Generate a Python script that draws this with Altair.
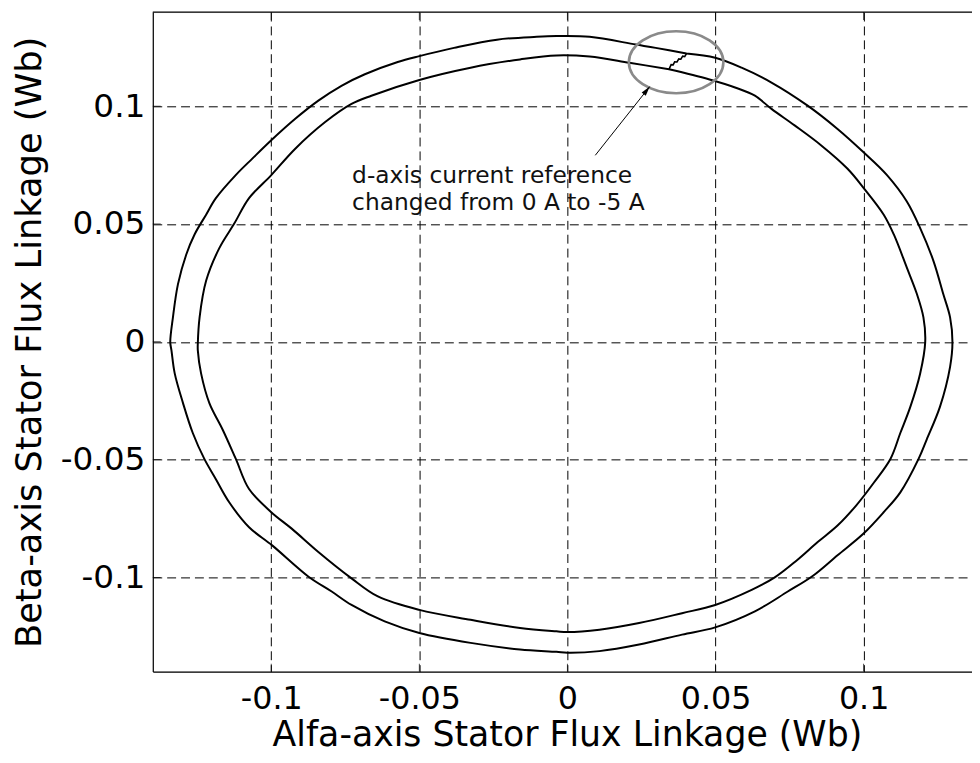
import altair as alt
import pandas as pd

# ---------------- data (Wb) ----------------
outer_x = [0.0402, 0.0298, 0.0231, 0.0075, -0.0037, -0.0104, -0.0238, -0.0383, -0.0500, -0.0573,
           -0.0684, -0.0763, -0.0841, -0.0919, -0.1000, -0.1064, -0.1120, -0.1187, -0.1220, -0.1259,
           -0.1287, -0.1315, -0.1332, -0.1341, -0.1337, -0.1326, -0.1298, -0.1265, -0.1226, -0.1187,
           -0.1142, -0.1075, -0.0997, -0.0874, -0.0796, -0.0729, -0.0617, -0.0500, -0.0327, -0.0160,
           -0.0037, 0.0000, 0.0108, 0.0242, 0.0387, 0.0499, 0.0633, 0.0744, 0.0828, 0.0912,
           0.0999, 0.1068, 0.1124, 0.1186, 0.1213, 0.1258, 0.1292, 0.1300, 0.1292, 0.1269,
           0.1236, 0.1191, 0.1146, 0.1079, 0.0999, 0.0912, 0.0811, 0.0689, 0.0588, 0.0499, 0.0402]
outer_y = [0.1224, 0.1248, 0.1262, 0.1295, 0.1298, 0.1295, 0.1283, 0.1248, 0.1213, 0.1188,
           0.1136, 0.1087, 0.1024, 0.0947, 0.0856, 0.0778, 0.0708, 0.0610, 0.0540, 0.0456,
           0.0371, 0.0245, 0.0104, -0.0002, -0.0036, -0.0134, -0.0260, -0.0387, -0.0497, -0.0583,
           -0.0681, -0.0787, -0.0864, -0.0997, -0.1060, -0.1117, -0.1187, -0.1236, -0.1278, -0.1306,
           -0.1316, -0.1320, -0.1313, -0.1285, -0.1243, -0.1212, -0.1144, -0.1060, -0.0994, -0.0906,
           -0.0815, -0.0723, -0.0639, -0.0496, -0.0415, -0.0275, -0.0106, -0.0001, 0.0104, 0.0203,
           0.0343, 0.0483, 0.0596, 0.0708, 0.0806, 0.0904, 0.1003, 0.1101, 0.1164, 0.1206, 0.1224]

# step change of the d-axis current reference (outer -> inner)
step_x = [0.0402, 0.0396, 0.0389, 0.0383, 0.0376, 0.0370, 0.0362, 0.0357, 0.0350, 0.0343]
step_y = [0.1224, 0.1211, 0.1213, 0.1200, 0.1201, 0.1188, 0.1189, 0.1176, 0.1177, 0.1157]

inner_x = [0.0343, 0.0209, 0.0075, -0.0037, -0.0160, -0.0327, -0.0500, -0.0662, -0.0729, -0.0818,
           -0.0919, -0.1000, -0.1075, -0.1125, -0.1175, -0.1220, -0.1242, -0.1248, -0.1248, -0.1237,
           -0.1209, -0.1164, -0.1120, -0.1075, -0.1000, -0.0930, -0.0841, -0.0729, -0.0640, -0.0500,
           -0.0327, -0.0160, -0.0037, 0.0000, 0.0108, 0.0242, 0.0387, 0.0499, 0.0622, 0.0700,
           0.0774, 0.0845, 0.0912, 0.0974, 0.1035, 0.1091, 0.1124, 0.1158, 0.1191, 0.1208,
           0.1202, 0.1180, 0.1146, 0.1102, 0.1068, 0.1001, 0.0945, 0.0856, 0.0767, 0.0689,
           0.0633, 0.0566, 0.0477, 0.0343]
inner_y = [0.1157, 0.1185, 0.1211, 0.1216, 0.1199, 0.1164, 0.1112, 0.1045, 0.1010, 0.0933,
           0.0820, 0.0708, 0.0610, 0.0502, 0.0399, 0.0259, 0.0104, -0.0006, -0.0036, -0.0134,
           -0.0260, -0.0373, -0.0496, -0.0625, -0.0723, -0.0794, -0.0892, -0.1004, -0.1081, -0.1138,
           -0.1180, -0.1215, -0.1229, -0.1232, -0.1222, -0.1194, -0.1152, -0.1117, -0.1053, -0.1000,
           -0.0928, -0.0850, -0.0780, -0.0696, -0.0597, -0.0496, -0.0387, -0.0275, -0.0134, -0.0001,
           0.0104, 0.0203, 0.0315, 0.0456, 0.0540, 0.0652, 0.0736, 0.0835, 0.0919, 0.0989,
           0.1045, 0.1080, 0.1115, 0.1157]

tick_values = [-0.1, -0.05, 0, 0.05, 0.1]
x_domain = [-0.14, 0.1366]
y_domain = [-0.14, 0.14]
x_full_right = 0.14

note_lines = ["d-axis current reference", "changed from 0 A to -5 A"]
note_x = [-0.0727, -0.0727]
note_y = [0.0673, 0.0561]

arrow_start = (0.0094, 0.0792)
arrow_tip = (0.0278, 0.1084)
ellipse_center = (0.0367, 0.1187)

# ---------------- tables (every layer uses columns x / y) ----------------
loops = pd.DataFrame({
    "x": outer_x + inner_x,
    "y": outer_y + inner_y,
    "i": list(range(len(outer_x))) + list(range(len(inner_x))),
    "loop": ["outer"] * len(outer_x) + ["inner"] * len(inner_x),
})
step_df = pd.DataFrame({"x": step_x, "y": step_y, "i": list(range(len(step_x)))})
bottom_ticks = pd.DataFrame({"x": tick_values, "y": [y_domain[0]] * len(tick_values)})
top_ticks = pd.DataFrame({"x": tick_values, "y": [y_domain[1]] * len(tick_values)})
left_ticks = pd.DataFrame({"x": [x_domain[0]] * len(tick_values), "y": tick_values})
top_frame_df = pd.DataFrame({"x": [x_domain[0]], "x2": [x_full_right], "y": [y_domain[1]]})
note_df = pd.DataFrame({"x": note_x, "y": note_y, "t": note_lines})
arrow_df = pd.DataFrame({"x": [arrow_start[0]], "y": [arrow_start[1]],
                         "x2": [arrow_tip[0]], "y2": [arrow_tip[1]]})
tip_df = pd.DataFrame({"x": [arrow_tip[0]], "y": [arrow_tip[1]]})
ell_df = pd.DataFrame({"x": [ellipse_center[0]], "y": [ellipse_center[1]]})

FONT = "DejaVu Sans"
xscale = alt.Scale(domain=x_domain, nice=False, zero=False)
yscale = alt.Scale(domain=y_domain, nice=False, zero=False)

common_axis = dict(values=tick_values, grid=True, gridDash=[9, 5], gridColor="#000000",
                   gridOpacity=1, gridWidth=1, ticks=False, domainColor="black", domainWidth=1.2,
                   labelFont=FONT, labelColor="black", labelOverlap=False,
                   labelFlush=False, labelExpr="'' + datum.value", titleFont=FONT,
                   titleFontWeight="normal", titleColor="black",
                   titleBaseline="alphabetic", titleAlign="center")

xaxis = alt.Axis(title="Alfa-axis Stator Flux Linkage (Wb)", labelPadding=12, labelFontSize=32,
                 titleFontSize=35, titleX=417.5, titleY=74, **common_axis)
yaxis = alt.Axis(title="Beta-axis Stator Flux Linkage (Wb)", labelPadding=8, labelFontSize=33,
                 titleFontSize=35.5, titleX=-113, titleY=332.5, titleAngle=270,
                 **common_axis)

X = alt.X("x:Q", scale=xscale, axis=xaxis)
Y = alt.Y("y:Q", scale=yscale, axis=yaxis)

curve = alt.Chart(loops).mark_line(color="black", strokeWidth=2, clip=True,
                                   interpolate="catmull-rom").encode(
    x=X, y=Y, order="i:Q", detail="loop:N")

step = alt.Chart(step_df).mark_line(color="black", strokeWidth=1.6, clip=True).encode(
    x=X, y=Y, order="i:Q")

top_frame = alt.Chart(top_frame_df).mark_rule(color="black", strokeWidth=1.2).encode(
    x=X, x2="x2:Q", y=Y)

tick_bottom = alt.Chart(bottom_ticks).mark_tick(orient="vertical", size=16, thickness=1,
                                                color="black", clip=True).encode(x=X, y=Y)
tick_top = alt.Chart(top_ticks).mark_tick(orient="vertical", size=16, thickness=1,
                                          color="black", clip=True).encode(x=X, y=Y)
tick_left = alt.Chart(left_ticks).mark_tick(orient="horizontal", size=16, thickness=1,
                                            color="black", clip=True).encode(x=X, y=Y)

ELLIPSE = "M-1,0A1,0.655,0,1,1,1,0A1,0.655,0,1,1,-1,0Z"
ellipse = alt.Chart(ell_df).mark_point(shape=ELLIPSE, size=9082, filled=False,
                                       stroke="#8a8a8a", strokeWidth=2.6, opacity=1).encode(
    x=X, y=Y)

arrow = alt.Chart(arrow_df).mark_rule(color="black", strokeWidth=1).encode(
    x=X, y=Y, x2="x2:Q", y2="y2:Q")

HEAD = "M0,0L-0.4,1.5L0.4,1.5Z"
head = alt.Chart(tip_df).mark_point(shape=HEAD, size=170, filled=True, color="black",
                                    opacity=1, angle=38.4).encode(x=X, y=Y)

note = alt.Chart(note_df).mark_text(align="left", baseline="alphabetic", font=FONT,
                                    fontSize=23.5, color="#111111").encode(
    x=X, y=Y, text="t:N")

chart = alt.layer(curve, step, top_frame, tick_bottom, tick_top, tick_left, ellipse, arrow,
                  head, note).properties(
    width=826, height=665,
    autosize=alt.AutoSizeParams(type="none"),
    padding={"left": 146, "top": 1, "right": 0, "bottom": 86},
).configure_view(stroke="transparent").configure(font=FONT)

chart.save("out.html", embed_options={"renderer": "svg", "actions": False})
